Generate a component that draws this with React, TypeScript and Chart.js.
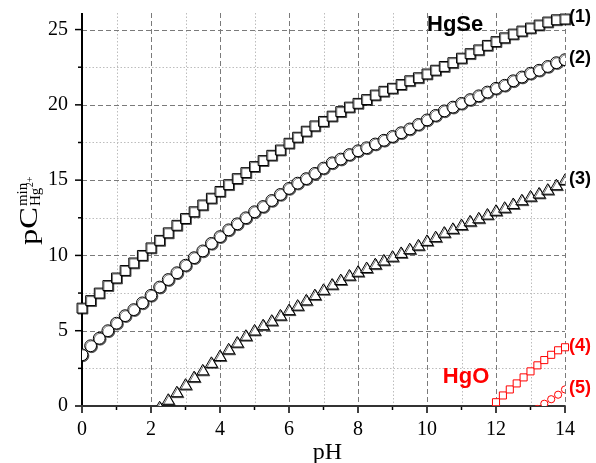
import React, { useEffect, useRef } from 'react';
import { Chart, registerables } from 'chart.js';

Chart.register(...registerables);

// ---- data ----
const pH = [0, 0.25, 0.5, 0.75, 1, 1.25, 1.5, 1.75, 2, 2.25, 2.5, 2.75, 3, 3.25, 3.5, 3.75, 4, 4.25, 4.5, 4.75, 5, 5.25, 5.5, 5.75, 6, 6.25, 6.5, 6.75, 7, 7.25, 7.5, 7.75, 8, 8.25, 8.5, 8.75, 9, 9.25, 9.5, 9.75, 10, 10.25, 10.5, 10.75, 11, 11.25, 11.5, 11.75, 12, 12.25, 12.5, 12.75, 13, 13.25, 13.5, 13.75, 14];

const series1 = [6.5, 7.0, 7.5, 8.0, 8.5, 9.0, 9.5, 10.0, 10.5, 11.0, 11.5, 12.0, 12.45, 12.9, 13.35, 13.8, 14.25, 14.7, 15.1, 15.5, 15.9, 16.3, 16.65, 17.0, 17.45, 17.85, 18.25, 18.6, 18.9, 19.25, 19.55, 19.85, 20.1, 20.35, 20.65, 20.9, 21.1, 21.35, 21.6, 21.8, 22.05, 22.3, 22.55, 22.8, 23.1, 23.4, 23.65, 23.95, 24.2, 24.45, 24.7, 24.9, 25.1, 25.3, 25.5, 25.65, 25.7];

const series2 = [3.4, 4.0, 4.5, 5.0, 5.5, 6.0, 6.4, 6.85, 7.35, 7.9, 8.4, 8.85, 9.35, 9.85, 10.3, 10.8, 11.25, 11.7, 12.1, 12.5, 12.9, 13.25, 13.65, 14.05, 14.45, 14.8, 15.1, 15.45, 15.8, 16.15, 16.4, 16.7, 16.95, 17.15, 17.4, 17.65, 17.9, 18.15, 18.4, 18.7, 19.0, 19.3, 19.6, 19.85, 20.1, 20.35, 20.6, 20.85, 21.1, 21.3, 21.6, 21.85, 22.1, 22.3, 22.55, 22.8, 23.0];

const series3 = [null, null, null, null, null, null, null, null, null, -0.15, 0.35, 0.85, 1.35, 1.85, 2.3, 2.8, 3.25, 3.7, 4.15, 4.6, 4.95, 5.3, 5.6, 5.95, 6.3, 6.6, 6.95, 7.3, 7.65, 8.0, 8.3, 8.6, 8.85, 9.1, 9.35, 9.6, 9.85, 10.1, 10.35, 10.6, 10.9, 11.15, 11.45, 11.7, 11.95, 12.2, 12.4, 12.65, 12.9, 13.1, 13.35, 13.6, 13.85, 14.05, 14.3, 14.6, 14.95];

const pHRed4 = [11.8, 12, 12.2, 12.4, 12.6, 12.8, 13, 13.2, 13.4, 13.6, 13.8, 14];
const series4 = [-0.3, 0.25, 0.7, 1.1, 1.5, 1.9, 2.3, 2.7, 3.05, 3.4, 3.7, 3.9];

const pHRed5 = [13.2, 13.4, 13.6, 13.8, 14];
const series5 = [-0.2, 0.15, 0.45, 0.75, 1.1];

const seriesLabels = ['(1)', '(2)', '(3)', '(4)', '(5)'];

const xMajor = [0, 2, 4, 6, 8, 10, 12, 14];
const xMinor = [1, 3, 5, 7, 9, 11, 13];
const yMajor = [0, 5, 10, 15, 20, 25];
const yMinor = [2.5, 7.5, 12.5, 17.5, 22.5];

const annotations = [
  { text: 'HgSe', x: 10.0, y: 24.9, color: '#000000' },
  { text: 'HgO', x: 10.46, y: 1.5, color: '#ff0000' },
];

const toPoints = (xs: number[], ys: (number | null)[]) =>
  xs.map((x, i) => ({ x, y: ys[i] })).filter((p) => p.y !== null);

const SERIF = '"Liberation Serif", "Times New Roman", serif';
const SANS = '"Liberation Sans", Arial, sans-serif';

Chart.defaults.font.family = SERIF;

const framePlugin = {
  id: 'frame',
  beforeDatasetsDraw(chart: any) {
    const { ctx, chartArea: a } = chart;
    const xs = chart.scales.x;
    const ys = chart.scales.y;
    const hl = (py: number) => {
      ctx.beginPath();
      ctx.moveTo(a.left, py);
      ctx.lineTo(a.right, py);
      ctx.stroke();
    };
    const vl = (px: number) => {
      ctx.beginPath();
      ctx.moveTo(px, a.top);
      ctx.lineTo(px, a.bottom);
      ctx.stroke();
    };
    ctx.save();
    // minor grid (dotted)
    ctx.lineWidth = 1;
    ctx.strokeStyle = '#bdbdbd';
    ctx.setLineDash([1.5, 2]);
    xMinor.forEach((v) => vl(Math.round(xs.getPixelForValue(v)) + 0.5));
    yMinor.forEach((v) => hl(Math.round(ys.getPixelForValue(v)) + 0.5));
    // major grid (dashed)
    ctx.strokeStyle = '#7a7a7a';
    ctx.setLineDash([5, 3]);
    xMajor.filter((v) => v !== 0).forEach((v) => vl(Math.round(xs.getPixelForValue(v)) + 0.5));
    yMajor.filter((v) => v !== 0).forEach((v) => hl(Math.round(ys.getPixelForValue(v)) + 0.5));
    ctx.setLineDash([]);

    // tick marks
    ctx.strokeStyle = '#000';
    ctx.lineWidth = 1.5;
    const yx = a.left;
    yMajor.forEach((v) => {
      const py = ys.getPixelForValue(v);
      ctx.beginPath(); ctx.moveTo(yx, py); ctx.lineTo(yx - 7, py); ctx.stroke();
    });
    yMinor.forEach((v) => {
      const py = ys.getPixelForValue(v);
      ctx.beginPath(); ctx.moveTo(yx, py); ctx.lineTo(yx - 4, py); ctx.stroke();
    });
    const xy = a.bottom;
    xMajor.forEach((v) => {
      const px = xs.getPixelForValue(v);
      ctx.beginPath(); ctx.moveTo(px, xy); ctx.lineTo(px, xy + 7); ctx.stroke();
    });
    xMinor.forEach((v) => {
      const px = xs.getPixelForValue(v);
      ctx.beginPath(); ctx.moveTo(px, xy); ctx.lineTo(px, xy + 4); ctx.stroke();
    });

    // axis lines
    ctx.lineWidth = 2;
    ctx.strokeStyle = '#000';
    ctx.beginPath(); ctx.moveTo(a.left, a.top); ctx.lineTo(a.left, a.bottom + 1); ctx.stroke();
    ctx.strokeStyle = '#333';
    ctx.beginPath(); ctx.moveTo(a.left - 1, a.bottom); ctx.lineTo(a.right, a.bottom); ctx.stroke();

    // tick labels
    ctx.fillStyle = '#000';
    ctx.font = `20px ${SERIF}`;
    ctx.textBaseline = 'middle';
    ctx.textAlign = 'right';
    yMajor.forEach((v) => ctx.fillText(String(v), a.left - 14, ys.getPixelForValue(v)));
    ctx.textAlign = 'center';
    xMajor.forEach((v) => ctx.fillText(String(v), xs.getPixelForValue(v), a.bottom + 24));
    ctx.restore();
  },
  beforeDatasetDraw(chart: any, args: any) {
    const ctx = chart.ctx;
    if (args.index <= 2) {
      ctx.save();
      ctx.shadowColor = 'rgba(0,0,0,0.55)';
      ctx.shadowOffsetX = 1;
      ctx.shadowOffsetY = 1;
      ctx.shadowBlur = 0;
    }
  },
  afterDatasetDraw(chart: any, args: any) {
    if (args.index <= 2) chart.ctx.restore();
  },
  afterDraw(chart: any) {
    const { ctx, chartArea: a } = chart;
    const xs = chart.scales.x;
    const ys = chart.scales.y;
    ctx.save();
    // series labels at the end of each series
    ctx.font = `bold 18px ${SANS}`;
    ctx.textAlign = 'left';
    ctx.textBaseline = 'middle';
    const ends = [
      { y: series1[series1.length - 1], c: '#000' },
      { y: series2[series2.length - 1], c: '#000' },
      { y: series3[series3.length - 1] as number, c: '#000' },
      { y: series4[series4.length - 1], c: '#ff0000' },
      { y: series5[series5.length - 1], c: '#ff0000' },
    ];
    ends.forEach((e, i) => {
      ctx.fillStyle = e.c;
      ctx.fillText(seriesLabels[i], xs.getPixelForValue(14) + 4, ys.getPixelForValue(e.y) - 1.5);
    });
    // compound labels
    ctx.font = `bold 22px ${SANS}`;
    ctx.textBaseline = 'alphabetic';
    annotations.forEach((an) => {
      ctx.fillStyle = an.color;
      ctx.fillText(an.text, xs.getPixelForValue(an.x), ys.getPixelForValue(an.y));
    });
    // x title
    ctx.fillStyle = '#000';
    ctx.font = `24px ${SERIF}`;
    ctx.textAlign = 'center';
    ctx.fillText('pH', (a.left + a.right) / 2 + 4, 459);
    // y title: pC with sup "min" and sub "Hg2+"
    ctx.textAlign = 'left';
    ctx.translate(37, 245);
    ctx.rotate(-Math.PI / 2);
    ctx.font = `25px ${SERIF}`;
    ctx.save();
    ctx.scale(1.3, 1);
    ctx.fillText('pC', 0, 0);
    ctx.restore();
    const w = ctx.measureText('pC').width * 1.3;
    ctx.font = `15px ${SERIF}`;
    ctx.fillText('min', w + 1, -10);
    ctx.fillText('Hg', w + 1, 3);
    const wh = ctx.measureText('Hg').width;
    ctx.font = `10px ${SERIF}`;
    ctx.fillText('2+', w + 1.5 + wh, -4);
    ctx.restore();
  },
};

export default function App() {
  const ref = useRef<HTMLCanvasElement | null>(null);
  useEffect(() => {
    if (!ref.current) return;
    const black = { borderColor: '#000000', backgroundColor: '#ffffff', borderWidth: 1 };
    const red = { borderColor: '#ff0000', backgroundColor: '#ffffff', borderWidth: 1 };
    const chart = new Chart(ref.current, {
      type: 'scatter',
      data: {
        datasets: [
          { label: '(1)', data: toPoints(pH, series1), pointStyle: 'rect', pointRadius: 7, ...black, clip: { left: false, top: false, right: false, bottom: 0 } as any },
          { label: '(2)', data: toPoints(pH, series2), pointStyle: 'circle', pointRadius: 5.9, ...black, clip: { left: 0, top: false, right: 0, bottom: 0 } as any },
          { label: '(3)', data: toPoints(pH, series3), pointStyle: 'triangle', pointRadius: 7, ...black, clip: { left: 0, top: false, right: 0, bottom: 0 } as any },
          { label: '(4)', data: toPoints(pHRed4, series4), pointStyle: 'rect', pointRadius: 5, ...red, clip: { left: false, top: false, right: false, bottom: 0 } as any },
          { label: '(5)', data: toPoints(pHRed5, series5), pointStyle: 'circle', pointRadius: 3.6, ...red, clip: { left: 0, top: false, right: 0, bottom: 0 } as any },
        ] as any,
      },
      options: {
        animation: false,
        responsive: false,
        events: [],
        layout: { padding: { top: 13, right: 31, left: 0, bottom: 0 } },
        plugins: { legend: { display: false }, tooltip: { enabled: false } },
        scales: {
          x: {
            type: 'linear',
            min: 0,
            max: 14,
            grid: { display: false },
            border: { display: false },
            afterBuildTicks: (s: any) => { s.ticks = xMajor.map((v) => ({ value: v })); },
            afterFit: (s: any) => { s.height = 57; },
            ticks: { display: false },
          },
          y: {
            type: 'linear',
            min: 0,
            max: 26.1,
            grid: { display: false },
            border: { display: false },
            afterBuildTicks: (s: any) => { s.ticks = yMajor.map((v) => ({ value: v })); },
            afterFit: (s: any) => { s.width = 82; },
            ticks: { display: false },
          },
        },
      } as any,
      plugins: [framePlugin],
    });
    return () => chart.destroy();
  }, []);
  return (
    <div style={{ position: 'fixed', left: 0, top: 0, width: 596, height: 463, background: '#fff' }}>
      <canvas ref={ref} width={596} height={463} style={{ display: 'block' }} />
    </div>
  );
}
